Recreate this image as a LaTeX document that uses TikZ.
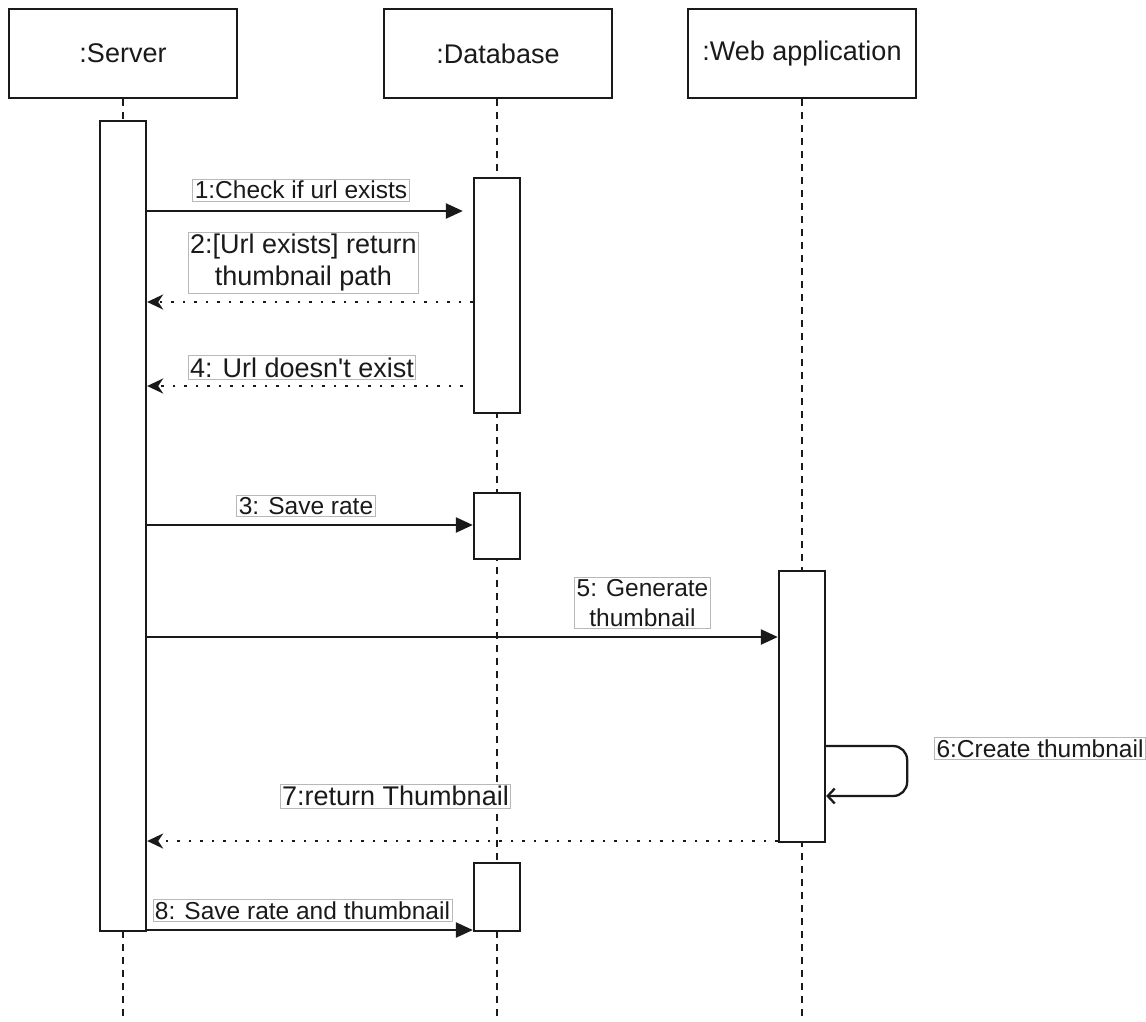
\documentclass[tikz,border=0pt]{standalone}
\usepackage{fontspec}
\setmainfont{Liberation Sans}
\usetikzlibrary{arrows.meta,calc}
\definecolor{ink}{HTML}{1A1A1A}
\definecolor{frame}{HTML}{B8B8B8}
\begin{document}
\begin{tikzpicture}[x=1pt,y=1pt,
  lifebox/.style={draw=ink, line width=2.3pt, fill=white, minimum width=228pt,
    minimum height=89pt, inner sep=0pt, text=ink, font=\fontsize{27}{32}\selectfont},
  act/.style={draw=ink, line width=2.3pt, fill=white, minimum width=46pt, inner sep=0pt, anchor=north},
  lifeline/.style={ink, line width=2.3pt, dash pattern=on 7pt off 6pt},
  call/.style={ink, line width=2.3pt, -{Triangle[length=17pt,width=15pt]}},
  reply/.style={ink, line width=2.5pt, dash pattern=on 2.5pt off 9pt,
    -{Stealth[length=16pt,width=15pt,inset=5pt]}},
  selfcall/.style={ink, line width=2.3pt, rounded corners=14pt,
    -{Straight Barb[length=7pt,width=15pt]}},
  msg/.style={draw=frame, line width=0.8pt, fill=white, inner sep=2pt, text=ink, align=center},
  small/.style={font=\fontsize{24.5}{30}\selectfont},
  large/.style={font=\fontsize{27}{32}\selectfont},
]
\useasboundingbox (0,0) rectangle (1146,-1021);
\fill[white] (0,0) rectangle (1146,-1021);

% participants
\node[lifebox] (srv) at (123,-53.5) {:Server};
\node[lifebox] (db)  at (498,-53.5) {:Database};
\node[lifebox] (web) at (802,-53.5) {:Web application};

\coordinate (bottom) at (0,-1021);
\draw[lifeline] (srv.south) -- (srv.south |- bottom);
\draw[lifeline] (db.south -| 497,0) -- (497,-1021);
\draw[lifeline] (web.south) -- (web.south |- bottom);

% activation bars
\node[act, minimum height=810pt] (sact) at (123,-120) {};
\node[act, minimum height=235pt] (d1) at (497,-177) {};
\node[act, minimum height=66pt]  (d2) at (497,-492) {};
\node[act, minimum height=271pt] (wact) at (802,-570) {};
\node[act, minimum height=68pt]  (d3) at (497,-862) {};

% message levels
\coordinate (y1) at (0,-211);
\coordinate (y2) at (0,-302);
\coordinate (y4) at (0,-386);
\coordinate (y3) at (0,-525);
\coordinate (y5) at (0,-637);
\coordinate (y6a) at (0,-746);
\coordinate (y6b) at (0,-796);
\coordinate (y7) at (0,-841);
\coordinate (y8) at (0,-930);

% messages
\draw[call, shorten >=10pt] (y1 -| sact.east) -- (y1 -| d1.west);
\draw[reply] (y2 -| d1.west) -- (y2 -| sact.east);
\draw[reply] ($(y4 -| d1.west)+(-10,0)$) -- (y4 -| sact.east);
\draw[call] (y3 -| sact.east) -- (y3 -| d2.west);
\draw[call] (y5 -| sact.east) -- (y5 -| wact.west);
\draw[selfcall] (y6a -| wact.east) -- ++(81,0) |- (y6b -| wact.east);
\draw[reply] (y7 -| wact.west) -- (y7 -| sact.east);
\draw[call] (y8 -| sact.east) -- (y8 -| d3.west);

% message labels
\node[msg, small] (l1) at (301,-190) {1:Check if url exists};
\node[msg, large] (l2) at (303.5,-263) {2:[Url exists] return\\thumbnail path};
\node[msg, large] (l4) at (302,-367.5) {4: Url doesn\textquotesingle t exist};
\node[msg, small] (l3) at (306,-506) {3: Save rate};
\node[msg, small] (l5) at (642.5,-603) {5: Generate\\thumbnail};
\node[msg, small] (l6) at (1040,-748.5) {6:Create thumbnail};
\node[msg, large] (l7) at (395.5,-796) {7:return Thumbnail};
\node[msg, small] (l8) at (302.5,-910.5) {8: Save rate and thumbnail};
\end{tikzpicture}
\end{document}
